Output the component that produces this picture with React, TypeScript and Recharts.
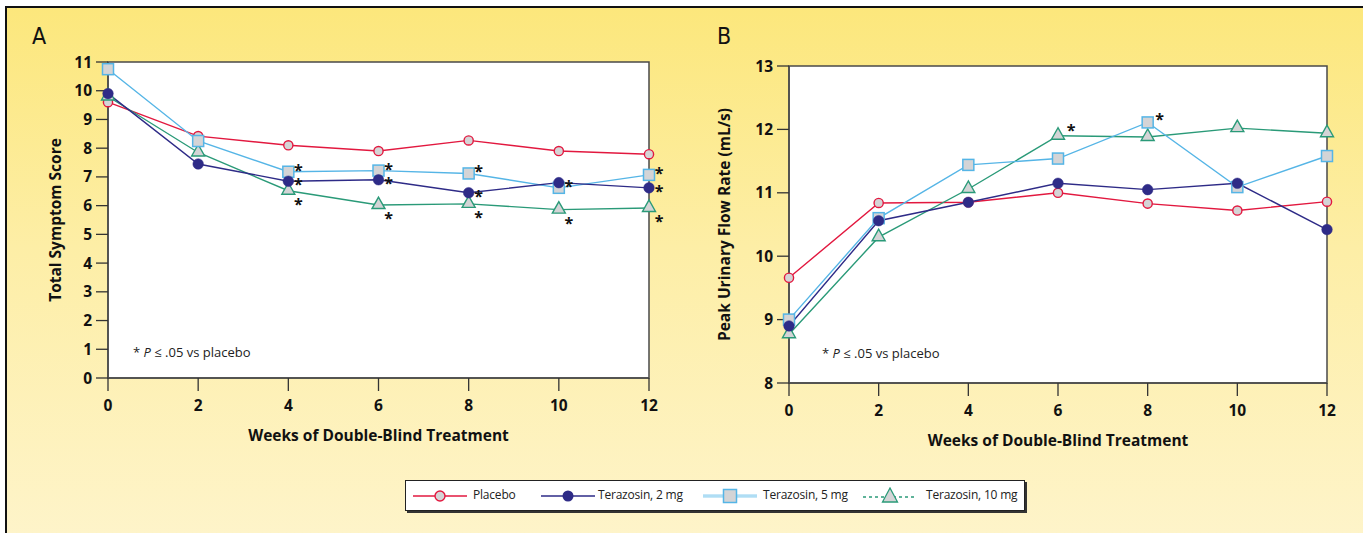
import React from 'react';
import { LineChart, Line, XAxis, YAxis, ReferenceArea, Label, LabelList } from 'recharts';

// ---------- data ----------
const weeks = [0, 2, 4, 6, 8, 10, 12];
const weekTicks = [0, 2, 4, 6, 8, 10, 12];
const scoreTicks = [0, 1, 2, 3, 4, 5, 6, 7, 8, 9, 10, 11];
const flowTicks = [8, 9, 10, 11, 12, 13];

const seriesNames = ['Placebo', 'Terazosin, 2 mg', 'Terazosin, 5 mg', 'Terazosin, 10 mg'];

const scorePlacebo = [9.6, 8.42, 8.1, 7.9, 8.27, 7.9, 7.79];
const score2mg = [9.9, 7.45, 6.85, 6.9, 6.45, 6.8, 6.62];
const score5mg = [10.75, 8.25, 7.18, 7.22, 7.12, 6.62, 7.07];
const score10mg = [9.8, 7.85, 6.52, 6.02, 6.06, 5.86, 5.92];
const scoreSig2mg = [false, false, true, true, true, false, true];
const scoreSig5mg = [false, false, true, true, true, true, true];
const scoreSig10mg = [false, false, true, true, true, true, true];

const flowPlacebo = [9.66, 10.84, 10.85, 11.0, 10.83, 10.72, 10.86];
const flow2mg = [8.9, 10.56, 10.85, 11.15, 11.05, 11.15, 10.42];
const flow5mg = [9.0, 10.6, 11.44, 11.54, 12.11, 11.09, 11.58];
const flow10mg = [8.77, 10.3, 11.06, 11.9, 11.88, 12.02, 11.94];
const flowSig2mg = [false, false, false, false, false, false, false];
const flowSig5mg = [false, false, false, false, true, false, false];
const flowSig10mg = [false, false, false, true, false, false, false];

// ---------- style ----------
const FONT = '"Open Sans", "Noto Sans", sans-serif';
const C_PLACEBO = '#E2183F';
const C_2MG = '#2E2B87';
const C_5MG = '#55B5E6';
const C_10MG = '#2A9A78';
const FILL = '#D4D4D6';
const AXIS = '#4a4a4a';
const TICK_FS = 15.5;
const TITLE_FS = 15.5;

const buildRows = (p: number[], a: number[], b: number[], c: number[]) =>
  weeks.map((w, i) => ({ week: w, placebo: p[i], t2: a[i], t5: b[i], t10: c[i] }));

const scoreRows = buildRows(scorePlacebo, score2mg, score5mg, score10mg);
const flowRows = buildRows(flowPlacebo, flow2mg, flow5mg, flow10mg);

const squareDot = (props: any) => {
  const { cx, cy, index } = props;
  if (cx == null || cy == null) return <g key={`s${index}`} />;
  return (
    <rect key={`s${index}`} x={cx - 5.5} y={cy - 5.5} width={11} height={11}
      fill={FILL} stroke={C_5MG} strokeWidth={1.5} />
  );
};

const triangleDot = (props: any) => {
  const { cx, cy, index } = props;
  if (cx == null || cy == null) return <g key={`t${index}`} />;
  return (
    <polygon key={`t${index}`}
      points={`${cx},${cy - 8} ${cx - 6.5},${cy + 3.5} ${cx + 6.5},${cy + 3.5}`}
      fill={FILL} stroke={C_10MG} strokeWidth={1.4} strokeLinejoin="miter" />
  );
};

const starRenderer = (flags: boolean[], dx: number, dy: number) => (props: any) => {
  const { x, y, index } = props;
  if (x == null || y == null || !flags[index]) return null;
  return (
    <text x={x + dx} y={y + dy + 9} textAnchor="middle" fontSize={16} fontWeight={700}
      fill="#111" fontFamily={FONT}>*</text>
  );
};

type PanelProps = {
  rows: any[];
  left: number;
  width: number;
  margin: { top: number; right: number; bottom: number; left: number };
  domain: [number, number];
  ticks: number[];
  yTitle: string;
  yTitleOffset: number;
  sig: { t2: boolean[]; t5: boolean[]; t10: boolean[] };
  starOff: { t2: [number, number]; t5: [number, number]; t10: [number, number] };
};

const Panel = ({ rows, left, width, margin, domain, ticks, yTitle, yTitleOffset, sig, starOff }: PanelProps) => (
  <div style={{ position: 'absolute', left, top: 0 }}>
    <LineChart width={width} height={533} data={rows} margin={margin}>
      <ReferenceArea x1={0} x2={12} y1={domain[0]} y2={domain[1]} fill="#ffffff" fillOpacity={1}
        stroke={AXIS} strokeWidth={1.5} ifOverflow="extendDomain" />
      <XAxis dataKey="week" type="number" domain={[0, 12]} ticks={weekTicks} height={30}
        tickSize={13} tickMargin={9} interval={0}
        axisLine={{ stroke: AXIS, strokeWidth: 1.5 }} tickLine={{ stroke: '#333', strokeWidth: 1.3 }}
        tick={{ fill: '#111', fontSize: TICK_FS, fontWeight: 700, fontFamily: FONT }}>
        <Label value="Weeks of Double-Blind Treatment" position="bottom" offset={22}
          style={{ fill: '#111', fontSize: TITLE_FS, fontWeight: 700, fontFamily: FONT }} />
      </XAxis>
      <YAxis type="number" domain={domain} ticks={ticks} width={60} interval={0}
        tickSize={12} tickMargin={4}
        axisLine={{ stroke: AXIS, strokeWidth: 1.5 }} tickLine={{ stroke: '#333', strokeWidth: 1.3 }}
        tick={{ fill: '#111', fontSize: TICK_FS, fontWeight: 700, fontFamily: FONT }}>
        <Label value={yTitle} angle={-90} position="insideLeft" offset={yTitleOffset}
          style={{ textAnchor: 'middle', fill: '#111', fontSize: TITLE_FS, fontWeight: 700, fontFamily: FONT }} />
      </YAxis>
      <Line dataKey="placebo" name={seriesNames[0]} stroke={C_PLACEBO} strokeWidth={1.4}
        isAnimationActive={false}
        dot={{ r: 4.6, fill: FILL, stroke: C_PLACEBO, strokeWidth: 1.4 }} />
      <Line dataKey="t10" name={seriesNames[3]} stroke={C_10MG} strokeWidth={1.4}
        isAnimationActive={false} dot={triangleDot}>
        <LabelList dataKey="t10" content={starRenderer(sig.t10, starOff.t10[0], starOff.t10[1])} />
      </Line>
      <Line dataKey="t5" name={seriesNames[2]} stroke={C_5MG} strokeWidth={1.4}
        isAnimationActive={false} dot={squareDot}>
        <LabelList dataKey="t5" content={starRenderer(sig.t5, starOff.t5[0], starOff.t5[1])} />
      </Line>
      <Line dataKey="t2" name={seriesNames[1]} stroke={C_2MG} strokeWidth={1.4}
        isAnimationActive={false}
        dot={{ r: 5.3, fill: C_2MG, stroke: C_2MG, strokeWidth: 0.5 }}>
        <LabelList dataKey="t2" content={starRenderer(sig.t2, starOff.t2[0], starOff.t2[1])} />
      </Line>
    </LineChart>
  </div>
);

const LegendIcon = ({ kind }: { kind: number }) => {
  const w = 54;
  return (
    <svg width={w} height={18} style={{ display: 'block' }}>
      {kind === 0 && (
        <>
          <line x1={0} y1={9} x2={w} y2={9} stroke={C_PLACEBO} strokeWidth={1.4} />
          <circle cx={w / 2} cy={9} r={5} fill={FILL} stroke={C_PLACEBO} strokeWidth={1.4} />
        </>
      )}
      {kind === 1 && (
        <>
          <line x1={0} y1={9} x2={w} y2={9} stroke={C_2MG} strokeWidth={1.4} />
          <circle cx={w / 2} cy={9} r={5.5} fill={C_2MG} />
        </>
      )}
      {kind === 2 && (
        <>
          <line x1={0} y1={9} x2={w} y2={9} stroke="#8fd0f0" strokeWidth={2.8} />
          <line x1={0} y1={9} x2={w} y2={9} stroke="#dff2fb" strokeWidth={0.8} />
          <rect x={w / 2 - 6.5} y={2.5} width={13} height={13} fill={FILL} stroke={C_5MG} strokeWidth={1.5} />
        </>
      )}
      {kind === 3 && (
        <>
          <line x1={0} y1={10} x2={w} y2={10} stroke={C_10MG} strokeWidth={1.3} strokeDasharray="3 3" />
          <polygon points={`${w / 2},1 ${w / 2 - 7.5},15 ${w / 2 + 7.5},15`} fill={FILL} stroke={C_10MG} strokeWidth={1.3} />
        </>
      )}
    </svg>
  );
};

const legendIconX = [7, 135, 297, 457];
const legendTextX = [67, 192, 357, 520];

const Legend = () => (
  <div style={{
    position: 'absolute', left: 405, top: 480, width: 620, height: 31, background: '#fff',
    border: '1px solid #222', boxShadow: '2px 2px 0 #333', boxSizing: 'border-box',
  }}>
    {seriesNames.map((n, i) => (
      <React.Fragment key={n}>
        <div style={{ position: 'absolute', left: legendIconX[i], top: 6 }}>
          <LegendIcon kind={i} />
        </div>
        <div style={{
          position: 'absolute', left: legendTextX[i], top: 5, fontFamily: FONT, fontSize: 12,
          letterSpacing: -0.2, color: '#222', whiteSpace: 'nowrap', lineHeight: '18px',
        }}>{n}</div>
      </React.Fragment>
    ))}
  </div>
);

const Note = ({ left, top }: { left: number; top: number }) => (
  <div style={{
    position: 'absolute', left, top, fontFamily: FONT, fontSize: 13, color: '#222',
    whiteSpace: 'nowrap', lineHeight: '18px',
  }}>
    * <i>P</i> ≤ .05 vs placebo
  </div>
);

const PanelLetter = ({ left, text }: { left: number; text: string }) => (
  <div style={{
    position: 'absolute', left, top: 22, fontFamily: '"Liberation Sans Narrow", "DejaVu Sans Condensed", sans-serif',
    fontSize: 23, color: '#111', lineHeight: '28px',
  }}>{text}</div>
);

export default function App() {
  return (
    <div style={{ position: 'absolute', left: 0, top: 0, width: 1363, height: 533, background: '#fff', overflow: 'hidden' }}>
      <div style={{
        position: 'absolute', left: 5, top: 6, width: 1363, height: 533,
        borderLeft: '2px solid #111', borderTop: '2px solid #111',
        background: 'linear-gradient(180deg, #FCE77C 0%, #FDEEA6 45%, #FEF4CA 100%)',
      }} />
      <PanelLetter left={32} text="A" />
      <PanelLetter left={717} text="B" />
      <Panel
        rows={scoreRows}
        left={0}
        width={700}
        margin={{ top: 62, right: 51, bottom: 125, left: 48 }}
        domain={[0, 11]}
        ticks={scoreTicks}
        yTitle="Total Symptom Score"
        yTitleOffset={7}
        sig={{ t2: scoreSig2mg, t5: scoreSig5mg, t10: scoreSig10mg }}
        starOff={{ t2: [10, 0], t5: [10, -5], t10: [10, 10] }}
      />
      <Panel
        rows={flowRows}
        left={700}
        width={663}
        margin={{ top: 66, right: 36, bottom: 120, left: 29 }}
        domain={[8, 13]}
        ticks={flowTicks}
        yTitle="Peak Urinary Flow Rate (mL/s)"
        yTitleOffset={-5}
        sig={{ t2: flowSig2mg, t5: flowSig5mg, t10: flowSig10mg }}
        starOff={{ t2: [10, 0], t5: [12, -6], t10: [13, -9] }}
      />
      <Note left={133} top={343} />
      <Note left={822} top={344} />
      <Legend />
    </div>
  );
}
